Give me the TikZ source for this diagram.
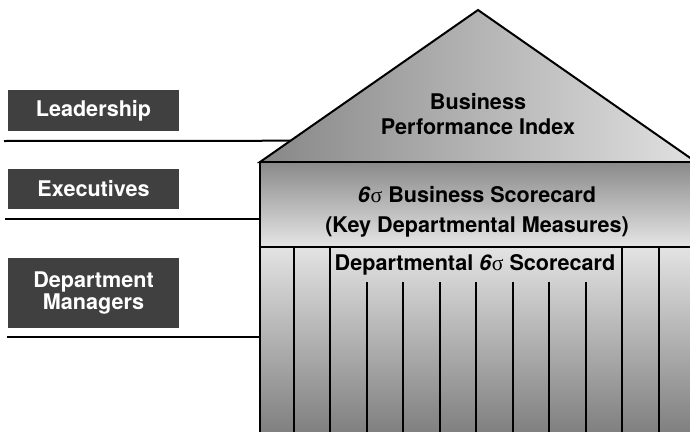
\documentclass[tikz,border=0pt]{standalone}
\usepackage{fontspec}
\setmainfont{TeX Gyre Heros}
\newfontfamily\greekfont{Liberation Serif}
\usetikzlibrary{calc}
\newcommand{\bigfont}[1]{\bfseries\fontsize{21.6}{#1}\selectfont}
\newcommand{\sixsig}{\textit{6}{\greekfont\mdseries σ}}

\begin{document}
\begin{tikzpicture}[x=1pt,y=-1pt,line width=2pt,
	levelbox/.style={fill=black!75,text=white,minimum width=171pt,inner sep=0pt,align=center},
	housetext/.style={align=center,inner sep=0pt}]
	\useasboundingbox (0,0) rectangle (690,431);
	\clip (0,0) rectangle (690,431);
	% corners of the house
	\coordinate (apex) at (478,10);
	\coordinate (eaveL) at (260,162);
	\coordinate (eaveR) at (696,162);
	\coordinate (bandL) at (260,247);
	\coordinate (bandR) at (696,247);
	\coordinate (baseR) at (696,433);
	% levels on the left
	\node[levelbox,font=\bigfont{26},minimum height=41pt] (lead) at (93.5,110.5) {Leadership};
	\node[levelbox,font=\bigfont{26},minimum height=40pt] (exec) at (93.5,189) {Executives};
	\node[levelbox,font=\bigfont{20},minimum height=70pt] (mgr) at (93.5,293) {Department\\Managers};
	\coordinate (lead0) at (4,141);
	\coordinate (exec0) at (5,219);
	\coordinate (mgr0) at (7,337);
	\draw (lead0) -- ($(eaveL)!0.14!(apex)$);
	\draw (exec0) -- (exec0 -| eaveL);
	\draw (mgr0) -- (mgr0 -| eaveL);
	% roof, band and columns
	\draw[left color=black!47,right color=black!12] (eaveL) -- (apex) -- (eaveR) -- cycle;
	\draw[top color=black!46,bottom color=black!10] (eaveL) rectangle (bandR);
	\draw[top color=black!11,bottom color=black!50] (bandL) rectangle (baseR);
	\foreach \k in {-5,-4,4,5}
		\draw (476+36.5*\k,247) -- (476+36.5*\k,433);
	\foreach \k in {-3,...,3}
		\draw (476+36.5*\k,282) -- (476+36.5*\k,433);
	\node[housetext,font=\bigfont{25}] (bpi) at (478,114) {Business\\Performance Index};
	\node[housetext,font=\bigfont{30}] (bsc) at (477,212) {\sixsig{} Business Scorecard\\(Key Departmental Measures)};
	\node[housetext,font=\bigfont{26}] (dsc) at (475,265) {Departmental \sixsig{} Scorecard};
\end{tikzpicture}
\end{document}
